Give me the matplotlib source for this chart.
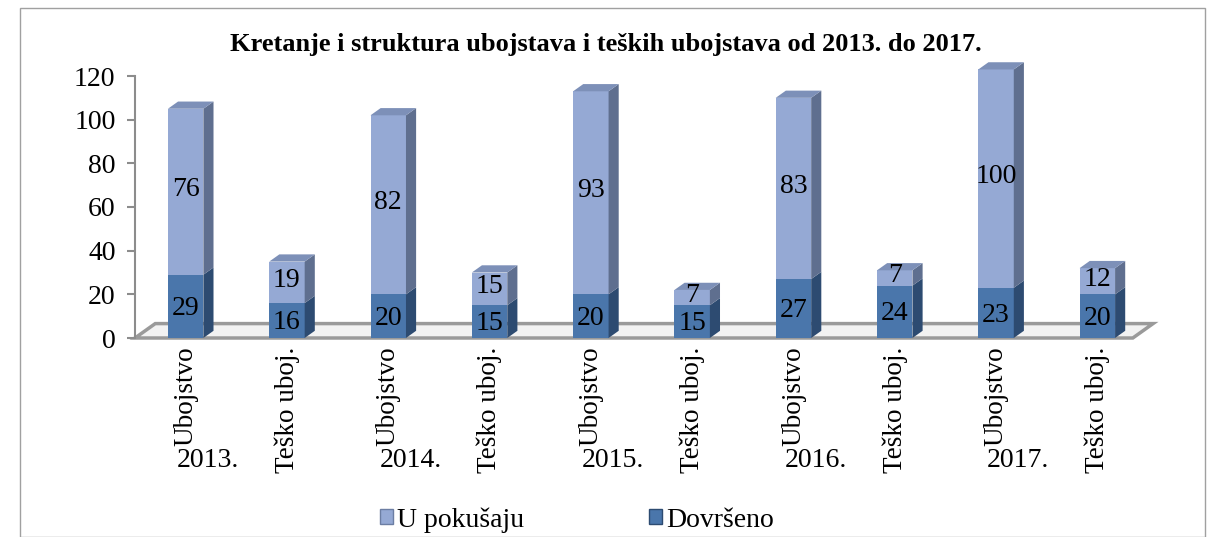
import matplotlib.pyplot as plt
from matplotlib.patches import Polygon, Rectangle

# podaci
godine = ['2013.', '2014.', '2015.', '2016.', '2017.']
kategorije = ['Ubojstvo', 'Teško uboj.'] * 5
dovrseno = [29, 16, 20, 15, 20, 15, 27, 24, 23, 20]
u_pokusaju = [76, 19, 82, 15, 93, 7, 83, 7, 100, 12]

plt.rcParams['font.family'] = ['Liberation Serif', 'DejaVu Serif']

W, H = 1212, 537
fig = plt.figure(figsize=(W / 100, H / 100), dpi=100)

# okvir oko grafikona
fig.patches.append(Rectangle((20 / W, 0), 1185 / W, (H - 8) / H, transform=fig.transFigure,
                             fill=False, edgecolor='#a0a0a0', linewidth=1))

ax = fig.add_axes([135 / W, (H - 338) / H, (1148 - 135) / W, (338 - 76) / H])
ax.set_xlim(-0.5, 9.5)
ax.set_ylim(0, 120)

# pod (3D platforma)
floor = Polygon([(0.0, 0.0), (0.985, 0.0), (1.005, 0.055), (0.02, 0.055)],
                closed=True, transform=ax.transAxes, facecolor='#f2f2f2',
                edgecolor='#9a9a9a', linewidth=2.5, zorder=1, clip_on=False)
ax.add_patch(floor)

sirina = 0.35
dx, dy = 0.1, 3.3
boje = [('#4a76ab', '#2d4b71'), ('#95a9d4', '#5f6f8f')]

x = list(range(len(kategorije)))
ax.bar(x, dovrseno, width=sirina, color=boje[0][0], zorder=3, clip_on=False)
ax.bar(x, u_pokusaju, width=sirina, bottom=dovrseno, color=boje[1][0], zorder=3, clip_on=False)

for i in x:
    segs = [(0, dovrseno[i], boje[0]), (dovrseno[i], dovrseno[i] + u_pokusaju[i], boje[1])]
    for y0, y1, (front, side) in segs:
        xr = i + sirina / 2
        ax.add_patch(Polygon([(xr, y0), (xr + dx, y0 + dy), (xr + dx, y1 + dy), (xr, y1)],
                             closed=True, facecolor=side, edgecolor='none', zorder=3, clip_on=False))
    top = dovrseno[i] + u_pokusaju[i]
    xl = i - sirina / 2
    ax.add_patch(Polygon([(xl, top), (xl + dx, top + dy), (xl + sirina + dx, top + dy), (xl + sirina, top)],
                         closed=True, facecolor='#7d90b8', edgecolor='none', zorder=3, clip_on=False))
    # oznake vrijednosti
    ax.text(i, dovrseno[i] / 2 - 1, str(dovrseno[i]), ha='center', va='center', fontsize=20, zorder=5)
    ax.text(i, dovrseno[i] + u_pokusaju[i] / 2 + 1, str(u_pokusaju[i]), ha='center', va='center',
            fontsize=20, zorder=5)

for s in ['top', 'right', 'bottom']:
    ax.spines[s].set_visible(False)
ax.spines['left'].set_color('#8c8c8c')
ax.spines['left'].set_linewidth(1.5)
ax.set_yticks(range(0, 121, 20))
ax.tick_params(axis='y', labelsize=20, color='#8c8c8c', length=6, width=1.5, pad=8)
ax.set_xticks(x)
ax.set_xticklabels(kategorije, rotation=90, fontsize=19.5)
ax.tick_params(axis='x', length=0, pad=6)
for lbl in ax.get_xticklabels():
    lbl.set_verticalalignment('top')

for k, g in enumerate(godine):
    ax.text(2 * k + 0.22, -56, g, ha='center', va='center', fontsize=20,
            transform=ax.transData, clip_on=False)

fig.text(0.5, 1 - 45 / H, 'Kretanje i struktura ubojstava i teških ubojstava od 2013. do 2017.',
         ha='center', va='center', fontsize=19, fontweight='bold')

handles = [Rectangle((0, 0), 1, 1, facecolor=boje[1][0], edgecolor='#6c7ea3'),
           Rectangle((0, 0), 1, 1, facecolor=boje[0][0], edgecolor='#2d4b71')]
fig.legend(handles, ['U pokušaju', 'Dovršeno'], loc='center', bbox_to_anchor=(0.476, 1 - 520 / H),
           ncol=2, frameon=False, fontsize=20, handlelength=0.45, handleheight=0.45,
           handletextpad=0.15, columnspacing=4.5, borderpad=0)

fig.savefig('out.png', dpi=100)
